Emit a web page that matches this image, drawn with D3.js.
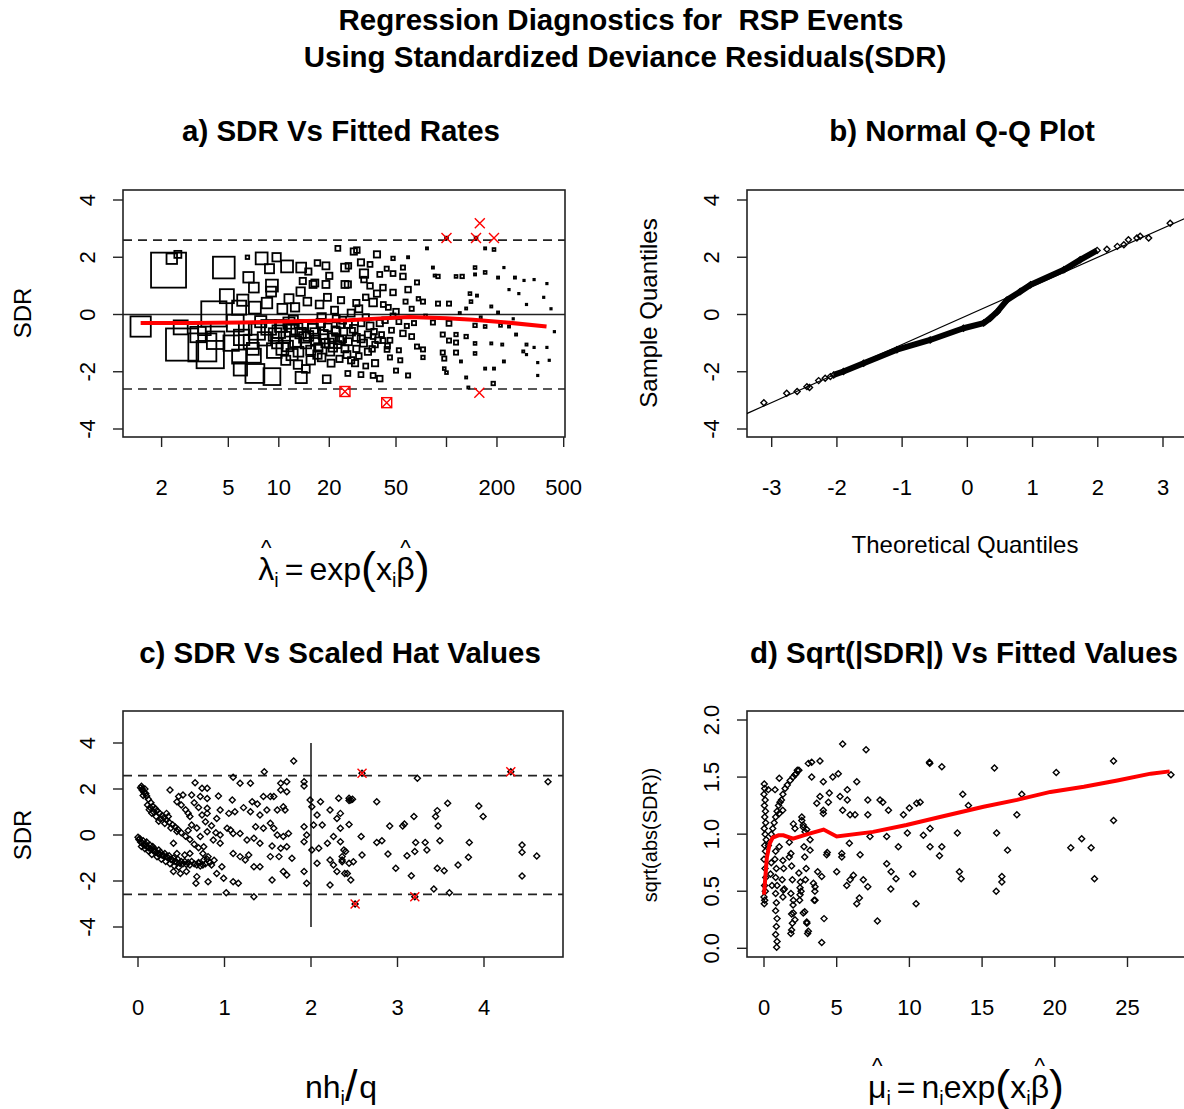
<!DOCTYPE html>
<html>
<head>
<meta charset="utf-8">
<script src="https://cdn.jsdelivr.net/npm/d3@7"></script>
<style>
  body { margin: 0; background: #fff; }
  text { font-family: "Liberation Sans", Arial, sans-serif; fill: #000; }
</style>
</head>
<body>
<svg id="fig" width="1184" height="1109"></svg>
<script>
// ---------- data ----------

// a) SDR vs fitted rate: [fitted rate, SDR, case weight (drives square size)]
const aPts = [
  [1.5,-0.42,2.9],[2.2,1.55,5.0],[2.3,1.95,1.5],[2.5,2.1,1.0],[2.65,-1.05,4.6],[2.6,-0.45,2.0],[3.5,-1.15,4.0],
  [3.9,-1.4,3.9],[4.1,0.02,3.6],[4.7,1.64,3.1],[4.9,0.64,2.0],[3.3,-0.7,2.2],[3.6,-0.5,1.8],[4.2,-0.9,2.5],
  [5.8,0.24,2.0],[6.5,2.0,0.5],[7.1,0.94,1.4],[7.2,0.24,1.7],[7.9,1.96,1.7],[5.8,-1.47,2.0],[7.1,-1.44,2.0],
  [7.2,-2.06,2.7],[9.1,-2.17,2.4],[9.1,1.01,1.7],[9.4,-1.26,2.1],[11.2,1.68,1.7],[13.6,1.64,1.4],[13.6,-2.2,1.6],
  [19.3,-2.26,1.1],[5.5,-0.3,2.4],[6.0,-0.8,2.2],[6.3,-0.5,1.8],[6.8,-0.95,2.0],[7.4,-0.6,2.3],[7.8,-0.25,1.6],
  [8.2,-0.85,1.9],[8.7,-0.45,2.1],[9.5,-0.7,1.8],[9.8,-1.0,1.5],[6.1,0.5,1.6],[8.5,0.4,1.5],[9.0,0.8,1.4],
  [5.2,-1.0,2.2],[7.0,-1.2,1.7],[6.6,1.3,1.5],[8.8,1.6,1.3],[9.7,2.0,1.2],[5.9,-1.9,1.9],
  [10.3,-0.4,1.7],[10.8,-0.8,1.6],[11.3,-1.1,1.5],[11.8,-0.55,1.8],[12.2,-0.2,1.3],[12.6,-0.95,1.6],[13.1,-1.3,1.4],
  [13.5,-0.65,1.5],[14.0,-0.35,1.3],[14.5,-1.0,1.5],[15.0,-0.75,1.4],[15.5,-1.25,1.3],[16.0,-0.5,1.4],[16.6,-0.9,1.3],
  [17.2,-1.15,1.2],[17.8,-0.3,1.2],[18.4,-0.7,1.3],[19.0,-1.0,1.2],[19.6,-0.45,1.1],[20.3,-1.3,1.1],[21.0,-0.8,1.2],
  [21.8,-0.55,1.1],[22.5,-1.05,1.0],[23.3,-0.35,1.0],[24.0,-0.85,1.0],[24.8,-1.2,1.0],[11.0,-1.6,1.3],[13.0,-1.75,1.2],
  [15.5,-1.6,1.2],[18.0,-1.5,1.1],[20.5,-1.7,1.0],[23.0,-1.55,0.9],[14.5,-1.9,1.1],[12.0,-1.4,1.6],[10.5,0.2,1.4],
  [11.5,0.55,1.3],[12.5,0.25,1.2],[13.5,0.8,1.2],[14.8,0.45,1.1],[16.0,1.05,1.0],[16.4,1.1,1.0],[13.9,1.17,0.9],
  [19.1,1.05,1.0],[19.1,1.7,1.0],[22.5,2.31,0.7],[24.8,1.64,1.1],[24.8,1.05,1.0],[17.5,0.35,1.1],[19.5,0.6,1.0],
  [21.5,0.15,1.0],[23.5,0.5,0.9],[18.0,-0.1,1.2],[22.0,-0.15,1.0],[15.0,1.5,0.9],[17.0,1.8,0.8],[20.0,1.35,0.9],
  [26,-0.35,1.0],[28,-0.5,1.1],[29,-0.8,1.0],[31,-0.3,0.9],[32,-1.0,1.0],[34,-0.7,0.9],[36,-1.2,0.8],[39,-0.9,0.8],
  [25.5,-1.4,1.0],[28.5,-1.7,0.9],[22,-0.6,1.2],[23,-0.9,1.1],[20,-1.0,1.3],[18.5,-0.85,1.3],[16.5,-0.65,1.4],
  [14.2,-0.8,1.5],[12.8,-0.5,1.6],[11.5,-0.3,1.6],[10.0,-0.6,1.8],[10.5,-1.2,1.7],[17,-1.4,1.2],[21,-1.15,1.2],
  [24,-0.2,1.0],[27,0.05,1.0],[29,0.4,0.9],[33,0.6,0.8],[35,1.0,0.8],[42,0.35,0.7],[46,-0.9,0.7],[53,-1.6,0.6],
  [58,-0.4,0.6],[64,-0.3,0.6],[48,-0.05,0.7],
  [28,2.2,0.9],[29.2,2.25,0.8],[30.9,1.82,0.9],[38.5,2.1,0.9],[32.2,1.43,1.2],[25.8,1.05,0.9],[32.2,1.22,0.8],
  [40,1.4,0.7],[48,1.43,0.7],[55,1.33,0.8],[55,1.64,0.6],[66.7,1.12,0.6],[59,0.87,0.8],[41.8,0.94,0.8],[48,0.77,0.8],
  [36.5,0.42,1.1],[38.5,0.73,0.9],[48,1.96,0.5],[59,2.0,0.3],[30,0.2,1.0],[33,-0.1,0.9],[35,-0.4,1.0],[37,-0.6,0.8],
  [40,-0.3,0.9],[43,-0.2,0.8],[45,0.25,0.7],[50,0.1,0.8],[52,-0.25,0.7],[27,-0.6,1.1],[26,-0.95,1.0],[29,-1.2,0.9],
  [31,-0.85,1.0],[34,-1.3,0.9],[37.5,-1.05,0.8],[41,-0.7,0.7],[44.5,-1.1,0.7],[47,-0.55,0.7],[55,-0.66,0.8],
  [62,-0.77,0.7],[66.7,-1.12,0.6],[72.4,-1.22,0.6],[72.4,-1.5,0.5],[44.2,-1.22,0.7],[36.5,-0.77,0.7],[41.8,-0.91,0.7],
  [37.5,-1.7,0.9],[25.8,-2.06,0.7],[30.9,-2.1,0.7],[36.5,-2.13,0.7],[40,-2.24,0.8],[50,-1.96,0.6],[59,-2.13,0.6],
  [27,-1.6,0.9],[30,-1.45,0.8],[33,-1.8,0.7],[46,-1.5,0.6],[52,-1.25,0.6],[57,0.45,0.6],[62,0.2,0.6],[68,0.55,0.5],
  [26,1.7,0.8],[35,1.75,0.7],[44,1.6,0.6],
  [76.5,2.31,0.3],[83,1.64,0.3],[85,1.36,0.3],[89,1.33,0.5],[114,1.33,0.4],[124,1.33,0.5],[148,1.4,0.3],[170,1.47,0.4],
  [148,1.64,0.4],[170,2.31,0.3],[192,2.27,0.4],[220,1.64,0.2],[203,1.29,0.3],[256,1.29,0.3],[290,1.19,0.2],
  [333,1.22,0.2],[397,1.08,0.2],[236,0.87,0.2],[270,0.73,0.2],[138,0.73,0.4],[140,0.45,0.4],[131,0.21,0.3],
  [152,0.66,0.3],[185,0.28,0.3],[203,0.07,0.3],[72.4,0.45,0.6],[89,0.38,0.6],[103.5,0.38,0.6],[83,-0.28,0.6],
  [103.5,-0.31,0.7],[148,-0.38,0.5],[170,-0.42,0.4],[210,-0.38,0.4],[236,-0.42,0.3],[95,-0.7,0.6],[114,-0.7,0.5],
  [131,-0.77,0.5],[103.5,-0.91,0.6],[114,-0.98,0.6],[148,-1.01,0.4],[185,-1.01,0.3],[215,-1.05,0.3],[260,-0.7,0.3],
  [300,-1.05,0.3],[333,-1.15,0.2],[397,-1.15,0.2],[95,-1.33,0.6],[114,-1.33,0.6],[148,-1.36,0.4],[97,-1.54,0.6],
  [122,-1.64,0.3],[170,-1.89,0.3],[192,-1.89,0.3],[220,-1.64,0.3],[287,-1.29,0.3],[300,-1.4,0.2],[350,-1.68,0.2],
  [350,-2.13,0.2],[97,-1.89,0.4],[100,-2.03,0.4],[131,-2.2,0.3],[190,-2.41,0.5],[135,-2.55,0.3],[100,2.67,0.4],
  [150,2.67,0.4],[75,-0.05,0.4],[120,0.05,0.3],[160,-0.1,0.3],[420,0.2,0.2],[440,-0.6,0.2],[380,0.6,0.2],
  [300,0.35,0.2],[250,-0.15,0.2],[410,-1.6,0.2]
];
const aOutliers = [[100,2.67],[150,2.67],[192,2.67],[158,3.19],[157,-2.73],[24.8,-2.69],[44,-3.08]];
const aOutlierBoxes = [[24.8,-2.69],[44,-3.08]];
const aSmooth = [[1.5,-0.3],[3,-0.3],[6,-0.28],[12,-0.24],[26,-0.2],[40,-0.14],[60,-0.09],[100,-0.13],
  [144,-0.18],[229,-0.28],[395,-0.42]];
const aTicks = [2, 5, 10, 20, 50, 100, 200, 500];
const aTickLabels = ["2", "5", "10", "20", "50", "", "200", "500"];
const sdrTicks = [-4, -2, 0, 2, 4];
const sdrCut = 2.6;

// b) normal Q-Q plot: [theoretical, sample]
const qqLow = [[-3.12,-3.08],[-2.77,-2.75],[-2.61,-2.69],[-2.46,-2.52],[-2.42,-2.55],[-2.28,-2.31],[-2.18,-2.23],[-2.10,-2.17]];
const qqBody = [[-2.05,-2.11],[-1.90,-1.99],[-1.59,-1.70],[-1.08,-1.23],[-0.57,-0.89],[-0.06,-0.48],[0.25,-0.30],
  [0.35,-0.13],[0.46,0.10],[0.61,0.51],[0.81,0.80],[0.97,1.04],[1.48,1.56],[1.73,1.91],[1.99,2.24]];
const qqHigh = [[2.14,2.28],[2.30,2.38],[2.40,2.44],[2.47,2.61],[2.60,2.67],[2.65,2.73],[2.78,2.67],[3.11,3.19]];
const qqLineCoef = [-0.03, 1.015];
const qqTicks = [-3, -2, -1, 0, 1, 2, 3];

// c) SDR vs scaled hat values: [n*h/q, SDR]
const cPts = [
  [0.03,2.05],[0.05,1.95],[0.04,2.12],[0.07,1.85],[0.08,2.0],[0.06,1.72],[0.1,1.7],[0.12,1.55],[0.14,1.2],[0.15,1.4],
  [0.17,1.25],[0.18,1.0],[0.2,1.15],[0.22,1.05],[0.25,0.95],[0.26,0.7],[0.28,0.85],[0.3,0.75],[0.33,0.65],[0.36,0.55],
  [0.4,0.45],[0.43,0.35],[0.46,0.25],[0.5,0.1],[0.55,-0.05],[0.6,-0.2],[0.65,-0.4],[0.7,-0.55],[0.75,-0.8],[0.8,-1.05],
  [0.85,-1.3],
  [0.05,2.0],[0.09,1.8],[0.11,1.3],[0.13,1.1],[0.16,0.95],[0.21,0.8],[0.24,0.6],[0.31,0.5],[0.38,0.3],[0.45,0.15],
  [0.45,1.45],[0.5,1.3],[0.55,1.1],[0.58,0.95],[0.65,1.4],[0.7,1.2],[0.68,0.3],[0.85,0.4],[0.9,0.1],[0.58,0.2],
  [0.0,-0.1],[0.01,-0.2],[0.03,-0.3],[0.05,-0.35],[0.07,-0.45],[0.1,-0.5],[0.12,-0.55],[0.15,-0.62],[0.18,-0.7],
  [0.2,-0.72],[0.23,-0.8],[0.25,-0.85],[0.28,-0.88],[0.3,-0.9],[0.33,-0.95],[0.35,-1.0],[0.38,-1.05],[0.4,-1.1],
  [0.43,-1.15],[0.45,-1.2],[0.48,-1.22],[0.52,-1.25],[0.56,-1.28],[0.6,-1.3],[0.65,-1.25],[0.7,-1.2],[0.75,-1.3],
  [0.04,-0.5],[0.08,-0.6],[0.12,-0.7],[0.16,-0.85],[0.22,-0.95],[0.27,-1.05],[0.32,-1.15],[0.37,-1.25],[0.42,-1.35],
  [0.47,-1.4],[0.1,-0.3],[0.17,-0.5],[0.24,-0.65],
  [0.02,-0.15],[0.06,-0.25],[0.09,-0.4],[0.14,-0.45],[0.19,-0.6],[0.26,-0.75],[0.31,-0.8],[0.36,-0.9],[0.41,-1.0],
  [0.46,-1.05],[0.5,-1.15],[0.54,-1.15],[0.58,-1.2],[0.62,-1.15],[0.68,-1.3],[0.72,-1.35],[0.78,-1.25],[0.83,-1.2],
  [0.88,-1.1],
  [0.37,1.96],[0.66,2.27],[0.74,2.03],[0.8,2.03],[0.47,1.67],[0.52,1.74],[0.62,1.74],[0.72,1.67],[0.8,1.59],[0.93,1.7],
  [1.1,2.51],[1.18,2.25],[1.3,2.25],[1.46,2.75],[1.8,3.22],[1.65,2.25],[1.72,2.32],[1.65,1.96],[1.72,1.88],[1.92,2.32],
  [1.92,2.13],[1.45,1.67],[1.53,1.67],[1.57,1.67],[1.32,1.45],[1.38,1.35],[1.09,1.52],[1.22,1.19],[1.3,1.01],[1.41,0.87],
  [1.49,1.09],[1.61,1.09],[1.68,1.23],[1.7,1.09],[0.95,1.09],[1.05,0.94],[1.12,1.01],[0.8,1.16],[0.8,0.94],[0.6,0.8],
  [0.62,0.43],[0.74,0.87],[0.78,0.58],[0.91,0.72],[0.8,0.14],[1.03,0.29],[1.07,0.22],[1.1,0.07],[0.95,0.0],[0.87,-0.22],
  [0.95,-0.36],[0.72,-0.07],[0.76,-0.51],[1.18,0.07],[1.26,-0.22],[1.34,-0.14],[1.36,0.36],[1.45,0.29],[1.53,0.51],
  [1.57,0.29],[1.61,0.0],[1.68,-0.07],[1.74,0.07],[1.41,-0.36],[1.55,-0.48],[1.65,-0.58],[1.72,-0.51],[1.1,-0.8],
  [1.18,-0.94],[1.28,-0.87],[1.24,-1.09],[1.34,-1.38],[1.41,-1.38],[1.53,-0.94],[1.63,-0.94],[1.78,-1.01],[1.68,-1.59],
  [1.72,-1.74],[1.55,-1.96],[1.92,-1.59],[1.95,-2.1],[0.97,-1.38],[0.91,-1.67],[0.99,-1.88],[1.1,-2.03],[1.16,-2.1],
  [0.81,-2.03],[1.02,-2.51],[1.34,-2.68],[0.67,-2.1],[0.68,-1.81],[0.41,-1.59],[0.49,-1.67],[0.56,-1.59],[0.7,-1.23],
  [0.76,-1.09],[0.81,-0.94],[0.45,-0.8],[0.54,-0.87],[0.6,-0.8],[0.41,-0.36],[0.33,0.94],[0.35,0.8],
  [1.99,1.52],[2.01,1.23],[2.11,1.45],[2.07,0.87],[2.22,1.09],[2.32,1.6],[2.3,0.72],[2.44,1.6],[2.03,0.43],[2.13,0.43],
  [1.92,0.36],[1.95,0.0],[1.92,-0.29],[2.01,-0.65],[2.09,-0.58],[2.07,-1.23],[2.19,-0.36],[2.26,-0.07],[2.22,-1.09],
  [2.26,-1.3],[2.36,-1.09],[2.36,-0.94],[2.3,-1.59],[2.42,-1.67],[2.38,-0.65],[2.22,-2.17],[2.46,-1.96],
  [2.46,1.52],[2.48,1.55],[2.44,1.5],[2.59,2.68],[3.23,2.47],[4.31,2.75],[4.74,2.32],[2.76,1.45],[2.34,0.94],[2.34,0.29],
  [2.44,0.46],[2.34,-0.29],[2.4,-0.72],[2.36,-1.16],[2.44,-1.23],[2.49,-1.16],[2.39,-1.67],[2.58,-0.07],[2.59,-0.87],
  [2.76,-0.33],[2.82,-0.25],[2.91,0.39],[2.89,-0.83],[2.98,-1.45],[3.06,0.39],[3.08,0.48],[3.11,-0.9],[3.19,0.8],
  [3.2,-0.72],[3.21,-0.33],[3.16,-1.77],[3.2,-2.68],[3.32,-0.33],[3.34,-0.65],[3.42,-2.35],[3.44,0.8],[3.46,1.06],
  [3.47,0.39],[3.49,-0.25],[3.46,-1.45],[3.54,-1.55],[3.58,1.38],[3.6,-2.51],[3.7,-1.3],[3.82,-0.97],[3.83,-0.33],
  [3.94,1.26],[3.99,0.8],[4.44,-0.43],[4.44,-0.75],[4.44,-1.78],[4.61,-0.91],[2.51,-3.0]
];
const cOutliers = [[2.59,2.68],[4.31,2.75],[3.2,-2.68],[2.51,-3.0]];
const cHatCut = 2;
const cTicks = [0, 1, 2, 3, 4];

// d) sqrt(|SDR|) vs fitted values: [fitted mean, sqrt(|SDR|)]
const dPts = [
  [0.02,1.44],[0.05,1.4],[0.0,1.35],[0.08,1.3],[0.03,1.25],[0.1,1.2],[0.05,1.15],[0.12,1.1],[0.02,1.05],[0.08,1.0],
  [0.15,0.95],[0.05,0.9],[0.1,0.85],[0.0,0.78],[0.07,0.7],[0.12,0.62],[0.04,0.55],[0.09,0.5],[0.0,0.45],[0.05,0.42],
  [0.02,0.39],
  [0.3,0.9],[0.5,1.0],[0.6,1.05],[0.7,1.1],[0.8,1.15],[0.9,1.2],[1.0,1.25],[1.1,1.28],[1.2,1.3],[1.3,1.35],[1.45,1.4],
  [1.6,1.43],[1.8,1.47],[2.0,1.5],[2.2,1.53],[2.4,1.56],[0.3,1.39],[0.76,1.39],[1.05,1.49],[2.13,1.52],[2.29,1.56],
  [0.8,0.85],[0.75,0.78],[0.85,0.7],[0.8,0.62],[0.9,0.55],[0.8,0.48],[0.85,0.4],[0.8,0.33],[0.9,0.26],[0.85,0.19],
  [0.8,0.12],[0.9,0.06],[0.87,0.01],[0.5,0.75],[0.45,0.65],[0.55,0.55],
  [1.3,0.77],[1.35,0.7],[1.25,0.6],[1.4,0.52],[1.3,0.45],[1.33,0.51],
  [1.85,0.83],[1.9,0.72],[1.95,0.6],[1.85,0.48],[2.0,0.38],[1.9,0.3],[1.95,0.22],[1.85,0.13],[2.02,0.42],[2.02,0.31],
  [2.13,0.25],[1.9,0.16],[1.74,0.8],[1.74,0.93],
  [2.4,0.66],[2.5,0.58],[2.55,0.5],[2.45,0.42],[2.48,0.53],[2.48,0.47],
  [2.75,0.89],[2.8,0.8],[2.9,0.7],[2.85,0.6],[2.8,0.32],[2.95,0.22],[3.0,0.13],[3.05,0.15],[2.7,0.31],[2.94,0.23],
  [3.4,0.57],[3.5,0.5],[3.45,0.42],[3.51,0.54],
  [1.05,1.18],[1.29,1.21],[1.05,0.89],[2.02,1.09],[2.13,1.05],[2.6,1.12],[2.7,1.08],[2.82,1.02],[2.94,1.04],[3.17,0.95],
  [3.17,0.86],[2.6,1.15],[2.7,1.06],
  [3.05,1.62],[3.28,1.63],[3.85,1.64],[3.28,1.5],[4.08,1.46],[4.73,1.5],[5.11,1.53],[5.41,1.79],[7.02,1.74],[6.38,1.46],
  [4.49,1.36],[3.85,1.33],[3.63,1.27],[5.23,1.33],[5.73,1.3],[5.73,1.39],[5.41,1.21],[5.92,1.17],[6.26,1.17],[4.43,1.28],
  [4.08,1.21],[4.08,1.18],[7.14,1.3],[7.14,1.17],[7.98,1.3],[8.17,1.28],[8.56,1.21],[9.59,1.17],[10.0,1.23],[10.5,1.27],
  [10.74,1.28],[11.38,1.63],[11.4,1.62],[12.23,1.59],[11.42,1.05],[10.96,0.99],[9.86,1.01],[8.44,0.98],[7.29,0.98],
  [9.24,0.89],[11.42,0.89],[12.23,0.89],[12.07,0.81],[8.44,0.74],[8.74,0.67],[9.08,0.61],[10.23,0.65],[8.72,0.52],
  [10.46,0.39],[7.8,0.24],[3.97,0.05],[4.13,0.26],[6.38,0.39],[6.56,0.44],[5.69,0.55],[5.92,0.6],[6.15,0.64],[6.83,0.6],
  [7.14,0.54],[6.61,0.82],[5.87,0.92],[5.35,0.83],[5.35,0.8],[5.0,0.67],[4.31,0.82],[4.35,0.84],[3.69,0.67],[3.97,0.63],
  [3.51,0.42],
  [13.67,1.35],[14.06,1.25],[15.85,1.58],[13.3,1.01],[16.0,1.01],[17.39,1.17],[17.73,1.35],[16.75,0.86],[13.44,0.67],
  [13.56,0.61],[16.36,0.63],[16.36,0.58],[15.97,0.5],[20.1,1.54],[21.1,0.88],[21.85,0.96],[22.5,0.88],[22.73,0.61],
  [24.04,1.64],[24.04,1.12],[27.99,1.52]
];
const dSmooth = [[0,0.47],[0.2,0.8],[0.4,0.92],[0.6,0.97],[1.0,0.99],[1.33,0.99],[2.0,0.96],[3.0,1.0],[4.1,1.04],
  [5.0,0.98],[7.5,1.02],[9.8,1.08],[12.1,1.15],[15.1,1.24],[17.4,1.30],[19.7,1.37],[22.0,1.415],[24.3,1.47],
  [26.6,1.53],[27.9,1.55]];
const dxTicks = [0, 5, 10, 15, 20, 25];
const dyTicks = [0, 0.5, 1, 1.5, 2];

// ---------- drawing ----------
const svg = d3.select("#fig");
const TICK = 10, TICK_FS = 22, LAB_FS = 24;

function panel(x0, x1, y0, y1, id) {
  svg.append("clipPath").attr("id", id).append("rect")
    .attr("x", x0).attr("y", y0).attr("width", x1 - x0).attr("height", y1 - y0);
  const g = svg.append("g");
  return { g, x0, x1, y0, y1, clip: "url(#" + id + ")" };
}

function frame(p) {
  p.g.append("rect").attr("x", p.x0).attr("y", p.y0)
    .attr("width", p.x1 - p.x0).attr("height", p.y1 - p.y0)
    .attr("fill", "none").attr("stroke", "#222").attr("stroke-width", 1.6);
}

function xAxis(p, sc, vals, labels) {
  vals.forEach((v, i) => {
    const x = sc(v);
    p.g.append("line").attr("x1", x).attr("x2", x).attr("y1", p.y1).attr("y2", p.y1 + TICK)
      .attr("stroke", "#222").attr("stroke-width", 1.4);
    p.g.append("text").attr("x", x).attr("y", p.y1 + 58).attr("text-anchor", "middle")
      .attr("font-size", TICK_FS).text(labels[i]);
  });
}

function yAxis(p, sc, vals, labels) {
  vals.forEach((v, i) => {
    const y = sc(v);
    p.g.append("line").attr("x1", p.x0 - TICK).attr("x2", p.x0).attr("y1", y).attr("y2", y)
      .attr("stroke", "#222").attr("stroke-width", 1.4);
    p.g.append("text").attr("transform", `translate(${p.x0 - 28},${y}) rotate(-90)`)
      .attr("text-anchor", "middle").attr("font-size", TICK_FS).text(labels[i]);
  });
}

function hline(p, y, dashed) {
  p.g.append("line").attr("x1", p.x0).attr("x2", p.x1).attr("y1", y).attr("y2", y)
    .attr("stroke", "#222").attr("stroke-width", 1.6)
    .attr("stroke-dasharray", dashed ? "9,6" : null);
}

function diamonds(p, pts, sx, sy) {
  p.g.append("g").attr("clip-path", p.clip).selectAll("path").data(pts).join("path")
    .attr("d", "M0,-3L3,0L0,3L-3,0Z")
    .attr("transform", d => `translate(${sx(d[0])},${sy(d[1])})`)
    .attr("fill", "none").attr("stroke", "#000").attr("stroke-width", 1.4);
}

function crosses(p, pts, sx, sy, r) {
  p.g.append("g").selectAll("path").data(pts).join("path")
    .attr("d", `M${-r},${-r}L${r},${r}M${-r},${r}L${r},${-r}`)
    .attr("transform", d => `translate(${sx(d[0])},${sy(d[1])})`)
    .attr("stroke", "#f00").attr("stroke-width", 1.4).attr("fill", "none");
}

function smooth(p, pts, sx, sy) {
  p.g.append("path").datum(pts).attr("clip-path", p.clip)
    .attr("d", d3.line().x(d => sx(d[0])).y(d => sy(d[1])))
    .attr("fill", "none").attr("stroke", "#f00").attr("stroke-width", 4);
}

function title(text, cx, y, fs) {
  svg.append("text").attr("x", cx).attr("y", y).attr("text-anchor", "middle")
    .attr("font-size", fs).attr("font-weight", "bold").text(text);
}

function yTitle(text, x, cy, fs) {
  svg.append("text").attr("transform", `translate(${x},${cy}) rotate(-90)`)
    .attr("text-anchor", "middle").attr("font-size", fs).text(text);
}

// plotmath-like label built piece by piece
function mathLabel(parts, cx, base, fs) {
  const g = svg.append("g");
  let x = 0;
  parts.forEach(pt => {
    const size = fs * (pt.sub ? 0.62 : pt.big ? 1.4 : 1);
    const dy = pt.sub ? fs * 0.22 : pt.big ? fs * 0.1 : 0;
    const t = g.append("text").attr("x", x).attr("y", dy).attr("font-size", size).text(pt.t);
    const w = t.node().getComputedTextLength();
    if (pt.hat) {
      g.append("text").attr("x", x + w / 2).attr("y", -fs * 0.78).attr("text-anchor", "middle")
        .attr("font-size", fs * 0.7).text("^");
    }
    x += w + (pt.gap || 0);
  });
  g.attr("transform", `translate(${cx - x / 2},${base})`);
}

// main titles
title("Regression Diagnostics for \u00a0RSP Events", 621, 30, 29.5);
title("Using Standardized Deviance Residuals(SDR)", 625, 67, 29.5);

// ----- a) -----
{
  const p = panel(123, 565, 190, 437, "clipA");
  const sx = d3.scaleLog().domain([2, 500]).range([161.6, 563.7]);
  const sy = d3.scaleLinear().domain([-4, 4]).range([429, 200]);
  const side = d3.scaleLinear().domain([0, 5]).range([0, 35]);
  frame(p);
  xAxis(p, sx, aTicks, aTickLabels);
  yAxis(p, sy, sdrTicks, sdrTicks.map(String));
  hline(p, sy(0), false);
  hline(p, sy(sdrCut), true);
  hline(p, sy(-sdrCut), true);
  p.g.append("g").attr("clip-path", p.clip).selectAll("rect").data(aPts).join("rect")
    .attr("x", d => sx(d[0]) - side(d[2]) / 2).attr("y", d => sy(d[1]) - side(d[2]) / 2)
    .attr("width", d => side(d[2])).attr("height", d => side(d[2]))
    .attr("fill", "none").attr("stroke", "#000").attr("stroke-width", 1.8);
  p.g.append("g").selectAll("rect").data(aOutlierBoxes).join("rect")
    .attr("x", d => sx(d[0]) - 5).attr("y", d => sy(d[1]) - 5).attr("width", 10).attr("height", 10)
    .attr("fill", "none").attr("stroke", "#f00").attr("stroke-width", 1.4);
  smooth(p, aSmooth, sx, sy);
  crosses(p, aOutliers, sx, sy, 5);
  title("a) SDR Vs Fitted Rates", 341, 141, 29.5);
  yTitle("SDR", 31, 313, LAB_FS);
  mathLabel([{t: "\u03bb", hat: 1}, {t: "i", sub: 1, gap: 6}, {t: "=", gap: 6}, {t: "exp"},
    {t: "(", big: 1}, {t: "x"}, {t: "i", sub: 1}, {t: "\u03b2", hat: 1}, {t: ")", big: 1}], 344, 580, 32);
}

// ----- b) -----
{
  const p = panel(747, 1189, 190, 437, "clipB");
  const sx = d3.scaleLinear().domain([-3, 3]).range([771.7, 1163]);
  const sy = d3.scaleLinear().domain([-4, 4]).range([429, 200]);
  frame(p);
  xAxis(p, sx, qqTicks, qqTicks.map(String));
  yAxis(p, sy, sdrTicks, sdrTicks.map(String));
  const lo = -3.6, hi = 3.6;
  p.g.append("line").attr("clip-path", p.clip)
    .attr("x1", sx(lo)).attr("y1", sy(qqLineCoef[0] + qqLineCoef[1] * lo))
    .attr("x2", sx(hi)).attr("y2", sy(qqLineCoef[0] + qqLineCoef[1] * hi))
    .attr("stroke", "#000").attr("stroke-width", 1.2);
  p.g.append("path").datum(qqBody)
    .attr("d", d3.line().x(d => sx(d[0])).y(d => sy(d[1])))
    .attr("fill", "none").attr("stroke", "#000").attr("stroke-width", 6).attr("stroke-linejoin", "round");
  diamonds(p, qqBody.concat(qqLow, qqHigh), sx, sy);
  title("b) Normal Q-Q Plot", 962, 141, 29.5);
  yTitle("Sample Quantiles", 657, 313, LAB_FS);
  svg.append("text").attr("x", 965).attr("y", 553).attr("text-anchor", "middle")
    .attr("font-size", LAB_FS).text("Theoretical Quantiles");
}

// ----- c) -----
{
  const p = panel(123, 563, 711, 957, "clipC");
  const sx = d3.scaleLinear().domain([0, 4]).range([138, 484]);
  const sy = d3.scaleLinear().domain([-4, 4]).range([927, 743]);
  frame(p);
  xAxis(p, sx, cTicks, cTicks.map(String));
  yAxis(p, sy, sdrTicks, sdrTicks.map(String));
  hline(p, sy(2.58), true);
  hline(p, sy(-2.58), true);
  p.g.append("line").attr("x1", sx(cHatCut)).attr("x2", sx(cHatCut)).attr("y1", sy(-4)).attr("y2", sy(4))
    .attr("stroke", "#222").attr("stroke-width", 1.6);
  diamonds(p, cPts, sx, sy);
  crosses(p, cOutliers, sx, sy, 4.5);
  title("c) SDR Vs Scaled Hat Values", 340, 663, 29.5);
  yTitle("SDR", 31, 835, LAB_FS);
  mathLabel([{t: "n"}, {t: "h"}, {t: "i", sub: 1}, {t: "/", big: 1, gap: 2}, {t: "q"}], 341, 1098, 32);
}

// ----- d) -----
{
  const p = panel(747, 1187, 711, 957, "clipD");
  const sx = d3.scaleLinear().domain([0, 25]).range([764, 1127.5]);
  const sy = d3.scaleLinear().domain([0, 2]).range([948.3, 720]);
  frame(p);
  xAxis(p, sx, dxTicks, dxTicks.map(String));
  yAxis(p, sy, dyTicks, dyTicks.map(v => v.toFixed(1)));
  diamonds(p, dPts, sx, sy);
  smooth(p, dSmooth, sx, sy);
  title("d) Sqrt(|SDR|) Vs Fitted Values", 964, 663, 29.5);
  yTitle("sqrt(abs(SDR))", 657, 835, 20);
  mathLabel([{t: "\u03bc", hat: 1}, {t: "i", sub: 1, gap: 6}, {t: "=", gap: 6}, {t: "n"}, {t: "i", sub: 1},
    {t: "exp"}, {t: "(", big: 1}, {t: "x"}, {t: "i", sub: 1}, {t: "\u03b2", hat: 1}, {t: ")", big: 1}], 966, 1098, 32);
}
</script>
</body>
</html>
